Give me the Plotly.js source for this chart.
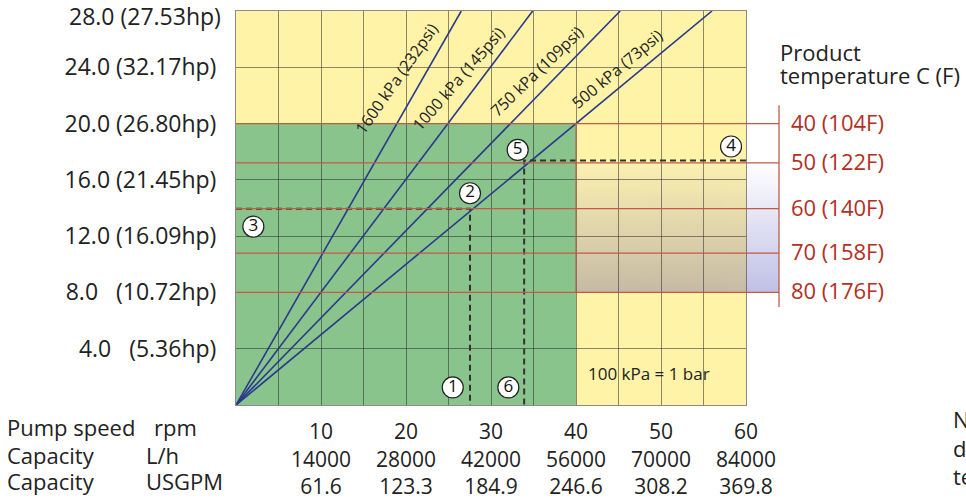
<!DOCTYPE html>
<html><head><meta charset="utf-8">
<script src="https://cdn.plot.ly/plotly-3.0.1.min.js"></script>
<style>html,body{margin:0;padding:0;background:#fff;overflow:hidden}</style>
</head><body><div id="chart" style="width:966px;height:501px"></div>
<script>
// ---- data ----
const speedTicks = [10, 20, 30, 40, 50, 60];
const capacityLh = ['14000', '28000', '42000', '56000', '70000', '84000'];
const capacityGpm = ['61.6', '123.3', '184.9', '246.6', '308.2', '369.8'];
const powerTicks = [4, 8, 12, 16, 20, 24, 28];
const powerLabels = ['4.0\u00a0\u00a0\u00a0(5.36hp)', '8.0\u00a0\u00a0\u00a0(10.72hp)', '12.0 (16.09hp)', '16.0 (21.45hp)', '20.0 (26.80hp)', '24.0 (32.17hp)', '28.0 (27.53hp)'];
const pressureNames = ['1600 kPa (232psi)', '1000 kPa (145psi)', '750 kPa (109psi)', '500 kPa (73psi)'];
const pressureEndSpeed = [26.5, 34.9, 45.2, 56.0];
const pressureEndPower = [28, 28, 28, 28];
const pressureLabelSpeed = [18.8, 26.1, 35.4, 44.8];
const pressureLabelPower = [23.2, 23.2, 23.75, 23.9];
const tempLabels = ['40 (104F)', '50 (122F)', '60 (140F)', '70 (158F)', '80 (176F)'];
const tempPower = [20.0, 17.2, 13.95, 10.8, 8.0];
const limitSpeed = [0, 40];
const limitPower = [0, 20];
const example1Speed = [0, 27.53, 27.53];
const example1Power = [13.95, 13.95, 0];
const example2Speed = [60, 33.9, 33.9];
const example2Power = [17.38, 17.38, 0];
const stepNumbers = ['1', '2', '3', '4', '5', '6'];
const stepSpeed = [25.5, 27.53, 2.04, 58.24, 33.14, 32.04];
const stepPower = [1.25, 15.05, 12.68, 18.37, 18.13, 1.25];

// ---- styles ----
const FONT = 'Open Sans, Noto Sans, sans-serif';
const TXT = '#222222';
const RED = '#c25a44';
const RED_TXT = '#b3301f';
const GRID = 'rgba(45,45,45,0.55)';
const YELLOW = '#fef3a7';
const GREEN = '#8ac48d';
const BLUE = '#2b3a8c';

function gradImg(top, bottom) {
  const c = document.createElement('canvas');
  c.width = 4; c.height = 256;
  const ctx = c.getContext('2d');
  const g = ctx.createLinearGradient(0, 0, 0, 256);
  g.addColorStop(0, top); g.addColorStop(1, bottom);
  ctx.fillStyle = g; ctx.fillRect(0, 0, 4, 256);
  return c.toDataURL('image/png');
}

const traces = [];
pressureNames.forEach((n, i) => {
  traces.push({x: [0, pressureEndSpeed[i]], y: [0, pressureEndPower[i]], mode: 'lines', type: 'scatter',
    line: {color: BLUE, width: 1.6}, hoverinfo: 'skip', showlegend: false});
});
[[example1Speed, example1Power], [example2Speed, example2Power]].forEach(p => {
  traces.push({x: p[0], y: p[1], mode: 'lines', type: 'scatter',
    line: {color: '#333333', width: 2, dash: '6px,4px'}, hoverinfo: 'skip', showlegend: false});
});
traces.push({x: stepSpeed, y: stepPower, text: stepNumbers, mode: 'markers+text', type: 'scatter',
  marker: {size: 21, color: '#ffffff', line: {color: '#222222', width: 1.2}},
  textposition: 'middle center', textfont: {family: FONT, size: 17, color: '#111111'},
  cliponaxis: false, hoverinfo: 'skip', showlegend: false});

// x tick labels
const xVals = [], xText = [];
for (let v = 0; v <= 60; v += 5) {
  xVals.push(v);
  const k = speedTicks.indexOf(v);
  xText.push(k >= 0 ? speedTicks[k] + '<br>' + capacityLh[k] + '<br>' + capacityGpm[k] : '');
}
// the top label (at the plot's upper edge) is drawn as an annotation a little lower, as in the reference
const topIdx = powerTicks.length - 1;
const yVals = [0].concat(powerTicks);
const yText = [''].concat(powerLabels.map((t, i) => i === topIdx ? '' : t));

const shapes = [
  {type: 'rect', xref: 'x', yref: 'y', x0: limitSpeed[0], x1: limitSpeed[1], y0: limitPower[0], y1: limitPower[1],
    fillcolor: GREEN, line: {width: 0}, layer: 'below'}
];
tempPower.forEach(t => {
  shapes.push({type: 'line', xref: 'paper', yref: 'y', x0: 0, x1: 1.0647, y0: t, y1: t,
    line: {color: RED, width: 1.3}, layer: 'above'});
});
shapes.push({type: 'line', xref: 'x', yref: 'y', x0: 40, x1: 40, y0: 8, y1: 20, line: {color: '#b4674a', width: 1.2}, layer: 'above'});
shapes.push({type: 'line', xref: 'paper', yref: 'paper', x0: 1.0647, x1: 1.0647, y0: 0.249, y1: 0.761,
  line: {color: RED, width: 1.3}, layer: 'above'});

const annotations = [];
annotations.push({xref: 'paper', yref: 'y', x: 0, xshift: -14, y: powerTicks[topIdx], yshift: -5, xanchor: 'right', yanchor: 'middle',
  borderpad: 0, text: powerLabels[topIdx], showarrow: false, font: {family: FONT, size: 23, color: TXT}});
const angles = [-55, -49, -44, -40];
pressureNames.forEach((n, i) => {
  annotations.push({xref: 'x', yref: 'y', x: pressureLabelSpeed[i], y: pressureLabelPower[i], text: n,
    xanchor: 'center', yanchor: 'middle',
    textangle: angles[i], showarrow: false, font: {family: FONT, size: 16, color: TXT}});
});
annotations.push({xref: 'x', yref: 'y', x: 48.6, y: 2.25, text: '100 kPa = 1 bar', showarrow: false,
  xanchor: 'center', yanchor: 'middle', font: {family: FONT, size: 17, color: TXT}});
tempLabels.forEach((t, i) => {
  annotations.push({xref: 'paper', yref: 'y', x: 1.0843, y: tempPower[i], yshift: 2, xanchor: 'left', yanchor: 'middle', text: t,
    showarrow: false, font: {family: FONT, size: 22, color: RED_TXT}});
});
annotations.push({xref: 'paper', yref: 'paper', x: 1.0627, y: 0.896, xanchor: 'left', yanchor: 'middle', text: 'Product',
  showarrow: false, font: {family: FONT, size: 22, color: TXT}});
annotations.push({xref: 'paper', yref: 'paper', x: 1.0627, y: 0.8376, xanchor: 'left', yanchor: 'middle', text: 'temperature C (F)',
  showarrow: false, font: {family: FONT, size: 22, color: TXT}});
const leftRows = [['Pump speed', 'rpm', -0.1647, -0.0558], ['Capacity', 'L/h', -0.18, -0.1269], ['Capacity', 'USGPM', -0.18, -0.1929]];
leftRows.forEach(r => {
  annotations.push({xref: 'paper', yref: 'paper', x: -0.4529, y: r[3], xanchor: 'left', yanchor: 'middle', text: r[0], showarrow: false,
    font: {family: FONT, size: 22, color: TXT}});
  annotations.push({xref: 'paper', yref: 'paper', x: r[2], y: r[3], xanchor: 'left', yanchor: 'middle', text: r[1], showarrow: false,
    font: {family: FONT, size: 22, color: TXT}});
});
annotations.push({xref: 'paper', yref: 'paper', x: 1.402, y: 0.0076, xanchor: 'left', yanchor: 'top', align: 'left',
  text: 'Note:<br>data<br>temperature<br>&gt;', showarrow: false, font: {family: FONT, size: 22, color: TXT}});

const images = [
  {source: gradImg('#fbf1b1', '#c6baa6'), xref: 'x', yref: 'y', x: 40, y: 17.2, sizex: 20, sizey: 9.2,
    sizing: 'stretch', xanchor: 'left', yanchor: 'top', layer: 'below'},
  {source: gradImg('#ffffff', '#c0c0e6'), xref: 'paper', yref: 'y', x: 1.0, y: 17.2, sizex: 0.0647, sizey: 9.2,
    sizing: 'stretch', xanchor: 'left', yanchor: 'top', layer: 'below'}
];

const layout = {
  width: 966, height: 501,
  margin: {l: 236, r: 220, t: 11, b: 96, pad: 0},
  paper_bgcolor: '#ffffff', plot_bgcolor: YELLOW,
  font: {family: FONT, size: 22, color: TXT},
  showlegend: false,
  xaxis: {range: [0, 60], tickmode: 'array', tickvals: xVals, ticktext: xText, showgrid: true, gridcolor: GRID, gridwidth: 1,
    zeroline: false, showline: true, mirror: true, linecolor: GRID, linewidth: 1, ticks: '', ticklabelstandoff: 8,
    ticklabeloverflow: 'allow', tickfont: {family: FONT, size: 21, color: TXT}, fixedrange: true},
  yaxis: {range: [0, 28], tickmode: 'array', tickvals: yVals, ticktext: yText, showgrid: true, gridcolor: GRID, gridwidth: 1,
    zeroline: false, showline: true, mirror: true, linecolor: GRID, linewidth: 1, ticks: '', ticklabelstandoff: 14,
    ticklabeloverflow: 'allow', tickfont: {family: FONT, size: 23, color: TXT}, fixedrange: true},
  shapes: shapes, annotations: annotations, images: images
};
Plotly.newPlot('chart', traces, layout, {displayModeBar: false, staticPlot: true});
</script></body></html>
